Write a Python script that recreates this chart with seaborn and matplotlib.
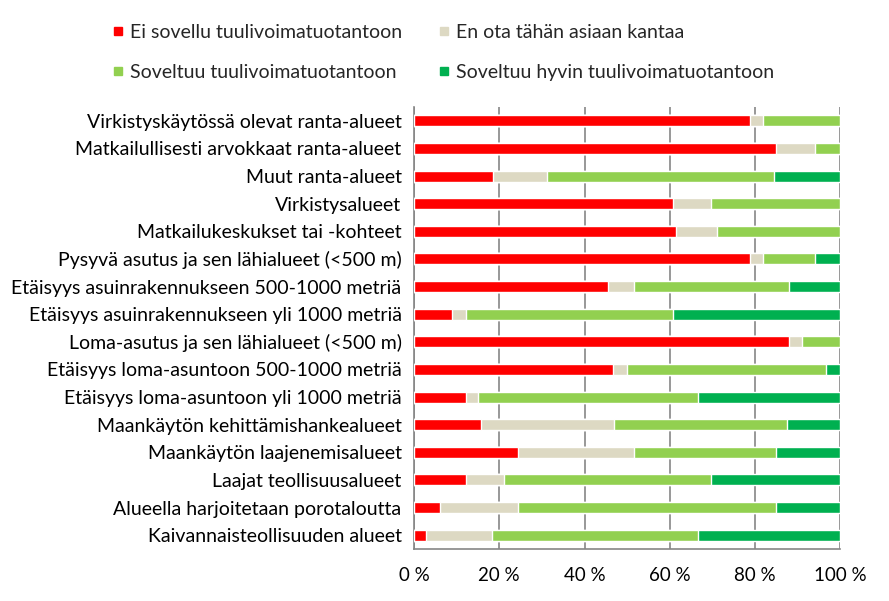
import matplotlib
matplotlib.use("Agg")
import matplotlib.pyplot as plt
from matplotlib.lines import Line2D
import numpy as np
import pandas as pd
import seaborn as sns

categories = [
    "Virkistyskäytössä olevat ranta-alueet",
    "Matkailullisesti arvokkaat ranta-alueet",
    "Muut ranta-alueet",
    "Virkistysalueet",
    "Matkailukeskukset tai -kohteet",
    "Pysyvä asutus ja sen lähialueet (<500 m)",
    "Etäisyys asuinrakennukseen 500-1000 metriä",
    "Etäisyys asuinrakennukseen yli 1000 metriä",
    "Loma-asutus ja sen lähialueet (<500 m)",
    "Etäisyys loma-asuntoon 500-1000 metriä",
    "Etäisyys loma-asuntoon yli 1000 metriä",
    "Maankäytön kehittämishankealueet",
    "Maankäytön laajenemisalueet",
    "Laajat teollisuusalueet",
    "Alueella harjoitetaan porotaloutta",
    "Kaivannaisteollisuuden alueet",
]

series_names = [
    "Ei sovellu tuulivoimatuotantoon",
    "En ota tähän asiaan kantaa",
    "Soveltuu tuulivoimatuotantoon",
    "Soveltuu hyvin tuulivoimatuotantoon",
]

ei_sovellu = [78.8, 84.9, 18.6, 60.7, 61.4, 78.8, 45.4, 9.0, 87.9, 46.6, 12.1, 15.6, 24.3, 12.1, 6.0, 2.9]
en_ota = [3.0, 9.1, 12.7, 8.9, 9.6, 3.0, 6.1, 3.1, 3.1, 3.3, 3.0, 31.2, 27.2, 9.1, 18.3, 15.3]
soveltuu = [18.2, 6.0, 53.1, 30.4, 29.0, 12.2, 36.4, 48.6, 9.0, 46.7, 51.5, 40.7, 33.4, 48.4, 60.6, 48.4]
soveltuu_hyvin = [0.0, 0.0, 15.6, 0.0, 0.0, 6.0, 12.1, 39.3, 0.0, 3.4, 33.4, 12.5, 15.1, 30.4, 15.1, 33.4]

colors = ["#FF0000", "#DDD9C3", "#92D050", "#00B050"]
grey = "#868686"

df = pd.DataFrame({
    "category": categories,
    series_names[0]: ei_sovellu,
    series_names[1]: en_ota,
    series_names[2]: soveltuu,
    series_names[3]: soveltuu_hyvin,
})
# convert to percent of row total, then cumulative sums for stacking
vals = df[series_names].div(df[series_names].sum(axis=1), axis=0) * 100
cum = vals.cumsum(axis=1)

sns.set_style("white")
plt.rcParams["font.family"] = ["Lato", "DejaVu Sans"]

fig = plt.figure(figsize=(8.89, 6.01), dpi=100)
ax = fig.add_axes([0.4657, 0.0865, 0.4795, 0.7355])

# draw from the longest cumulative bar to the shortest
for i in range(3, -1, -1):
    sns.barplot(x=cum[series_names[i]], y=df["category"], orient="h",
                color=colors[i], width=0.4, saturation=1, ax=ax, zorder=3)

ax.set_xlim(0, 100)
ax.set_ylim(len(categories) - 0.5, -0.5)
ax.set_xticks(np.arange(0, 101, 20))
ax.set_xticklabels([f"{t} %" for t in range(0, 101, 20)])
ax.set_xlabel("")
ax.set_ylabel("")

ax.grid(axis="x", color=grey, lw=1.2, zorder=0)
ax.grid(axis="y", visible=False)
ax.set_axisbelow(True)

for s in ["top", "right"]:
    ax.spines[s].set_visible(False)
for s in ["left", "bottom"]:
    ax.spines[s].set_color(grey)
    ax.spines[s].set_linewidth(1.2)

ax.set_yticks(np.arange(-0.5, len(categories), 1.0), minor=True)
ax.tick_params(axis="y", which="major", length=0, pad=9, labelsize=14, colors="black")
ax.tick_params(axis="y", which="minor", length=7, width=1.2, color=grey, direction="out")
ax.tick_params(axis="x", which="major", length=6, width=1.2, color=grey, direction="out",
               labelsize=13.5, labelcolor="black", pad=7)

handles = [Line2D([0], [0], marker="s", linestyle="", markersize=5.5,
                  markerfacecolor=colors[i], markeredgecolor=colors[i]) for i in [0, 2, 1, 3]]
labels = [series_names[i] for i in [0, 2, 1, 3]]
fig.legend(handles, labels, ncol=2, loc="upper left", bbox_to_anchor=(0.108, 0.99),
           frameon=False, fontsize=14, handlelength=0.5, handletextpad=0.35,
           columnspacing=1.9, labelspacing=1.2)

fig.savefig("out.png", dpi=100)
